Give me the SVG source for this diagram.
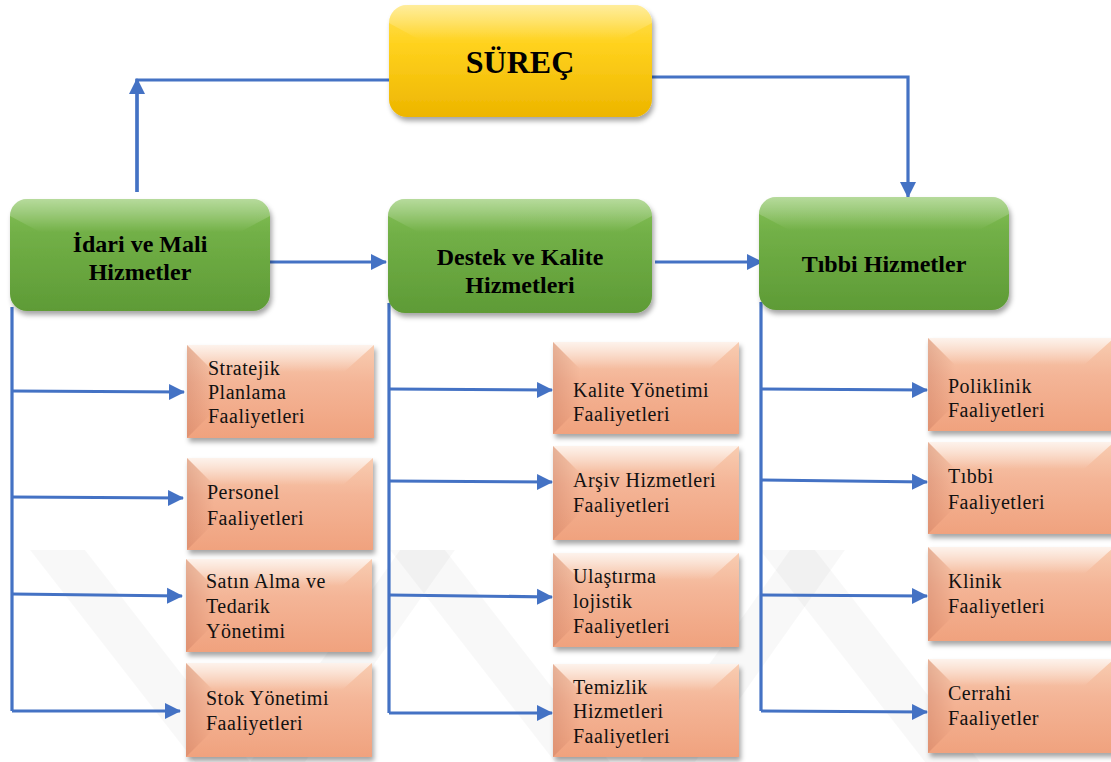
<svg xmlns="http://www.w3.org/2000/svg" width="1111" height="762" viewBox="0 0 1111 762">
  <defs>
    <style>
      text { font-family: "Liberation Serif", Tinos, "DejaVu Serif", "Noto Serif", "Times New Roman", Times, serif; }
      .hdr { font-weight: bold; font-size: 24px; fill: #000; text-anchor: middle; }
      .ttl { font-weight: bold; font-size: 32px; fill: #000; text-anchor: middle; }
      .lbl { font-size: 20px; letter-spacing: 0.5px; fill: #111; }
      .conn { fill: none; stroke: #4472C4; stroke-width: 3.2; stroke-linejoin: miter; }
      .arr { marker-end: url(#ah); }
      .wm { fill: #000; opacity: 0.028; }
      .yel { fill: url(#gY); filter: url(#sh); }
      .grn { fill: url(#gG); filter: url(#sh); }
      .org { fill: url(#gO); filter: url(#sh); }
      .hiT { fill: url(#gHiT); }
      .hiG { fill: url(#gHiG); }
      .hiL { fill: url(#gHiL); }
    </style>
    <marker id="ah" markerUnits="userSpaceOnUse" markerWidth="18" markerHeight="18" refX="15" refY="8" orient="auto" viewBox="0 0 18 16">
      <path d="M0,0 L16,8 L0,16 z" fill="#4472C4"/>
    </marker>
    <filter id="sh" x="-10%" y="-10%" width="125%" height="130%">
      <feDropShadow dx="2" dy="4" stdDeviation="2.5" flood-color="#000" flood-opacity="0.35"/>
    </filter>
    <linearGradient id="gY" x1="0" y1="0" x2="0" y2="1">
      <stop offset="0" stop-color="#FFE15A"/>
      <stop offset="0.35" stop-color="#FFD21E"/>
      <stop offset="1" stop-color="#EDB500"/>
    </linearGradient>
    <linearGradient id="gG" x1="0" y1="0" x2="0" y2="1">
      <stop offset="0" stop-color="#86C25A"/>
      <stop offset="0.3" stop-color="#72B047"/>
      <stop offset="1" stop-color="#5E9B36"/>
    </linearGradient>
    <linearGradient id="gO" x1="0" y1="0" x2="0" y2="1">
      <stop offset="0" stop-color="#F8CDB2"/>
      <stop offset="0.4" stop-color="#F4B597"/>
      <stop offset="1" stop-color="#F0A27E"/>
    </linearGradient>
    <linearGradient id="gHiT" x1="0" y1="0" x2="0" y2="1">
      <stop offset="0" stop-color="#FFFFFF" stop-opacity="0.75"/>
      <stop offset="1" stop-color="#FFFFFF" stop-opacity="0"/>
    </linearGradient>
    <linearGradient id="gHiG" x1="0" y1="0" x2="0" y2="1">
      <stop offset="0" stop-color="#FFFFFF" stop-opacity="0.4"/>
      <stop offset="1" stop-color="#FFFFFF" stop-opacity="0"/>
    </linearGradient>
    <linearGradient id="gHiL" x1="0" y1="0" x2="1" y2="0">
      <stop offset="0" stop-color="#B0604A" stop-opacity="0.25"/>
      <stop offset="1" stop-color="#B0604A" stop-opacity="0"/>
    </linearGradient>
  </defs>

  <rect width="1111" height="762" fill="#FFFFFF"/>

  <g id="watermark">
    <polygon class="wm" points="30,550 85,550 250,762 195,762"/>
    <polygon class="wm" points="250,762 305,762 455,550 400,550"/>
    <polygon class="wm" points="390,550 445,550 610,762 555,762"/>
    <polygon class="wm" points="640,762 695,762 845,550 790,550"/>
    <polygon class="wm" points="760,550 815,550 980,762 925,762"/>
  </g>

  <g id="connectors">
    <polyline class="conn" points="389,80 137,80 137,192" />
    <line class="conn arr" x1="137" y1="192" x2="137" y2="79"/>
    <polyline class="conn arr" points="652,77 908,77 908,197"/>
    <line class="conn arr" x1="265" y1="262" x2="386" y2="262"/>
    <line class="conn arr" x1="655" y1="262" x2="762" y2="262"/>
    <polyline class="conn" points="12,307 12,711"/>
    <line class="conn arr" x1="12" y1="391" x2="184" y2="392"/>
    <line class="conn arr" x1="12" y1="497" x2="183" y2="498"/>
    <line class="conn arr" x1="12" y1="594" x2="182" y2="596"/>
    <polyline class="conn arr" points="12,711 180,711"/>
    <polyline class="conn" points="389,303 389,713"/>
    <line class="conn arr" x1="389" y1="389" x2="552" y2="390"/>
    <line class="conn arr" x1="389" y1="481" x2="552" y2="482"/>
    <line class="conn arr" x1="389" y1="595" x2="552" y2="597"/>
    <polyline class="conn arr" points="389,713 552,713"/>
    <polyline class="conn" points="761,302 761,711"/>
    <line class="conn arr" x1="761" y1="389" x2="927" y2="390"/>
    <line class="conn arr" x1="761" y1="480" x2="927" y2="482"/>
    <line class="conn arr" x1="761" y1="595" x2="927" y2="596"/>
    <polyline class="conn arr" points="761,711 927,712"/>
  </g>

  <g id="surec">
    <rect class="yel" x="389" y="5" width="263" height="112" rx="18"/>
    <path class="hiG" d="M407,5 H634 Q652,5 652,23 L620,40 H420 L389,23 Q389,5 407,5 Z"/>
    <text class="ttl" x="520" y="73">SÜREÇ</text>
  </g>

  <g id="idari">
    <rect class="grn" x="10" y="199" width="260" height="112" rx="17"/>
    <path class="hiG" d="M27,199 H253 Q270,199 270,216 L240,232 H40 L10,216 Q10,199 27,199 Z"/>
    <text class="hdr" x="140" y="252">İdari ve Mali</text>
    <text class="hdr" x="140" y="280">Hizmetler</text>
  </g>

  <g id="destek">
    <rect class="grn" x="388" y="199" width="264" height="114" rx="17"/>
    <path class="hiG" d="M405,199 H635 Q652,199 652,216 L622,232 H418 L388,216 Q388,199 405,199 Z"/>
    <text class="hdr" x="520" y="265">Destek ve Kalite</text>
    <text class="hdr" x="520" y="293">Hizmetleri</text>
  </g>

  <g id="tibbi">
    <rect class="grn" x="759" y="197" width="250" height="113" rx="17"/>
    <path class="hiG" d="M776,197 H992 Q1009,197 1009,214 L979,230 H789 L759,214 Q759,197 776,197 Z"/>
    <text class="hdr" x="884" y="272">Tıbbi Hizmetler</text>
  </g>

  <!-- Column 1 -->
  <g id="stratejik">
    <rect class="org" x="187" y="345" width="187" height="93"/>
    <polygon class="hiT" points="187,345 374,345 344,372 214,372"/>
    <polygon class="hiL" points="187,345 214,372 214,411 187,438"/>
    <text class="lbl" x="208" y="375">Stratejik</text>
    <text class="lbl" x="208" y="399">Planlama</text>
    <text class="lbl" x="208" y="423">Faaliyetleri</text>
  </g>
  <g id="personel">
    <rect class="org" x="187" y="458" width="186" height="92"/>
    <polygon class="hiT" points="187,458 373,458 343,485 214,485"/>
    <polygon class="hiL" points="187,458 214,485 214,523 187,550"/>
    <text class="lbl" x="207" y="499">Personel</text>
    <text class="lbl" x="207" y="525">Faaliyetleri</text>
  </g>
  <g id="satinalma">
    <rect class="org" x="186" y="559" width="186" height="93"/>
    <polygon class="hiT" points="186,559 372,559 342,586 213,586"/>
    <polygon class="hiL" points="186,559 213,586 213,625 186,652"/>
    <text class="lbl" x="206" y="588">Satın Alma ve</text>
    <text class="lbl" x="206" y="613">Tedarik</text>
    <text class="lbl" x="206" y="638">Yönetimi</text>
  </g>
  <g id="stok">
    <rect class="org" x="186" y="663" width="186" height="94"/>
    <polygon class="hiT" points="186,663 372,663 342,690 213,690"/>
    <polygon class="hiL" points="186,663 213,690 213,730 186,757"/>
    <text class="lbl" x="206" y="705">Stok Yönetimi</text>
    <text class="lbl" x="206" y="730">Faaliyetleri</text>
  </g>

  <!-- Column 2 -->
  <g id="kalite">
    <rect class="org" x="553" y="342" width="186" height="92"/>
    <polygon class="hiT" points="553,342 739,342 709,369 580,369"/>
    <polygon class="hiL" points="553,342 580,369 580,407 553,434"/>
    <text class="lbl" x="573" y="397">Kalite Yönetimi</text>
    <text class="lbl" x="573" y="421">Faaliyetleri</text>
  </g>
  <g id="arsiv">
    <rect class="org" x="553" y="446" width="186" height="94"/>
    <polygon class="hiT" points="553,446 739,446 709,473 580,473"/>
    <polygon class="hiL" points="553,446 580,473 580,513 553,540"/>
    <text class="lbl" x="573" y="487">Arşiv Hizmetleri</text>
    <text class="lbl" x="573" y="512">Faaliyetleri</text>
  </g>
  <g id="ulastirma">
    <rect class="org" x="553" y="553" width="186" height="94"/>
    <polygon class="hiT" points="553,553 739,553 709,580 580,580"/>
    <polygon class="hiL" points="553,553 580,580 580,620 553,647"/>
    <text class="lbl" x="573" y="583">Ulaştırma</text>
    <text class="lbl" x="573" y="608">lojistik</text>
    <text class="lbl" x="573" y="633">Faaliyetleri</text>
  </g>
  <g id="temizlik">
    <rect class="org" x="553" y="664" width="186" height="93"/>
    <polygon class="hiT" points="553,664 739,664 709,691 580,691"/>
    <polygon class="hiL" points="553,664 580,691 580,730 553,757"/>
    <text class="lbl" x="573" y="694">Temizlik</text>
    <text class="lbl" x="573" y="718">Hizmetleri</text>
    <text class="lbl" x="573" y="743">Faaliyetleri</text>
  </g>

  <!-- Column 3 -->
  <g id="poliklinik">
    <rect class="org" x="928" y="338" width="186" height="93"/>
    <polygon class="hiT" points="928,338 1114,338 1084,365 955,365"/>
    <polygon class="hiL" points="928,338 955,365 955,404 928,431"/>
    <text class="lbl" x="948" y="393">Poliklinik</text>
    <text class="lbl" x="948" y="417">Faaliyetleri</text>
  </g>
  <g id="tibbifaal">
    <rect class="org" x="928" y="442" width="186" height="92"/>
    <polygon class="hiT" points="928,442 1114,442 1084,469 955,469"/>
    <polygon class="hiL" points="928,442 955,469 955,507 928,534"/>
    <text class="lbl" x="948" y="483">Tıbbi</text>
    <text class="lbl" x="948" y="509">Faaliyetleri</text>
  </g>
  <g id="klinik">
    <rect class="org" x="928" y="547" width="186" height="94"/>
    <polygon class="hiT" points="928,547 1114,547 1084,574 955,574"/>
    <polygon class="hiL" points="928,547 955,574 955,614 928,641"/>
    <text class="lbl" x="948" y="588">Klinik</text>
    <text class="lbl" x="948" y="613">Faaliyetleri</text>
  </g>
  <g id="cerrahi">
    <rect class="org" x="928" y="659" width="186" height="94"/>
    <polygon class="hiT" points="928,659 1114,659 1084,686 955,686"/>
    <polygon class="hiL" points="928,659 955,686 955,726 928,753"/>
    <text class="lbl" x="948" y="700">Cerrahi</text>
    <text class="lbl" x="948" y="725">Faaliyetler</text>
  </g>
</svg>
